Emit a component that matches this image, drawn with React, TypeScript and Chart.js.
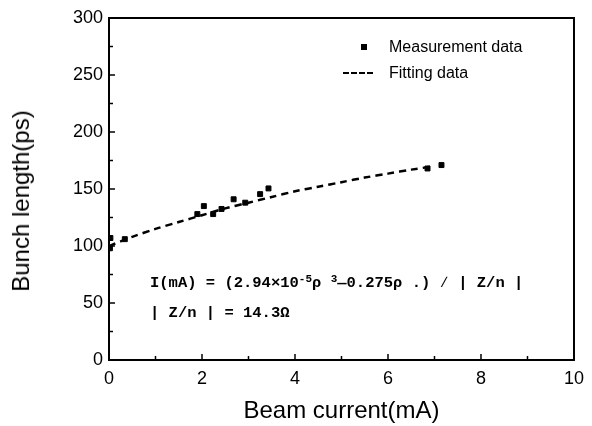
import React, { useEffect, useRef } from "react";
import { Chart, registerables } from "chart.js";

Chart.register(...registerables);

const measX = [0.02, 0.03, 0.34, 1.9, 2.04, 2.24, 2.42, 2.68, 2.93, 3.25, 3.43, 6.85, 7.15];
const measY = [98, 107, 106, 128, 135, 128, 132.5, 141, 138, 145.5, 150.5, 168, 171];

const fitX = [0, 0.5, 1, 1.5, 2, 2.5, 3, 3.5, 4, 4.5, 5, 5.5, 6, 6.5, 7];
const fitY = [100, 108, 115, 121, 127, 133, 138, 143, 148, 152, 156, 160, 163.5, 167, 170];

const xTicks = [0, 2, 4, 6, 8, 10];
const yTicks = [0, 50, 100, 150, 200, 250, 300];

const framePlugin = {
  id: "framePlugin",
  afterDraw(chart: any) {
    const { ctx, chartArea } = chart;
    const xs = chart.scales.x;
    const ys = chart.scales.y;
    ctx.save();
    ctx.strokeStyle = "#000";
    ctx.lineWidth = 2;
    ctx.strokeRect(chartArea.left, chartArea.top, chartArea.right - chartArea.left, chartArea.bottom - chartArea.top);
    ctx.lineWidth = 1.5;
    for (let v = 0; v <= 10; v += 1) {
      const px = xs.getPixelForValue(v);
      const len = v % 2 === 0 ? 6 : 4;
      ctx.beginPath();
      ctx.moveTo(px, chartArea.bottom);
      ctx.lineTo(px, chartArea.bottom - len);
      ctx.stroke();
    }
    for (let v = 0; v <= 300; v += 25) {
      const py = ys.getPixelForValue(v);
      const len = v % 50 === 0 ? 6 : 4;
      ctx.beginPath();
      ctx.moveTo(chartArea.left, py);
      ctx.lineTo(chartArea.left + len, py);
      ctx.stroke();
    }
    ctx.restore();
  },
};

export default function App() {
  const ref = useRef<HTMLCanvasElement | null>(null);
  useEffect(() => {
    document.body.style.margin = "0";
    const canvas = ref.current;
    if (!canvas) return;
    const chart = new Chart(canvas, {
      type: "scatter",
      data: {
        datasets: [
          {
            label: "Fitting data",
            data: fitX.map((x, i) => ({ x, y: fitY[i] })),
            showLine: true,
            borderColor: "#000",
            borderWidth: 2.5,
            borderDash: [7, 5],
            pointRadius: 0,
            tension: 0.3,
            order: 2,
          },
          {
            label: "Measurement data",
            data: measX.map((x, i) => ({ x, y: measY[i] })),
            pointStyle: "rect",
            pointRadius: 3.5,
            backgroundColor: "#000",
            borderColor: "#000",
            borderWidth: 1,
            showLine: false,
            order: 1,
          },
        ],
      },
      options: {
        animation: false,
        responsive: false,
        layout: { padding: { left: 0, top: 18, right: 14, bottom: 0 } },
        plugins: { legend: { display: false }, tooltip: { enabled: false } },
        scales: {
          x: {
            type: "linear",
            min: 0,
            max: 10,
            grid: { display: false, drawTicks: false },
            border: { display: false },
            afterFit: (s: any) => {
              s.height = 66;
            },
            afterBuildTicks: (s: any) => {
              s.ticks = xTicks.map((v) => ({ value: v }));
            },
            ticks: {
              color: "#000",
              padding: 8,
              maxRotation: 0,
              font: { family: "Liberation Sans", size: 18 },
            },
            title: {
              display: true,
              text: "Beam current(mA)",
              color: "#000",
              padding: { top: 0, bottom: 0 },
              font: { family: "Liberation Sans", size: 24 },
            },
          },
          y: {
            type: "linear",
            min: 0,
            max: 300,
            grid: { display: false, drawTicks: false },
            border: { display: false },
            afterFit: (s: any) => {
              s.width = 109;
            },
            afterBuildTicks: (s: any) => {
              s.ticks = yTicks.map((v) => ({ value: v }));
            },
            ticks: {
              color: "#000",
              padding: 6,
              font: { family: "Liberation Sans", size: 18 },
            },
            title: { display: false },
          },
        },
      },
      plugins: [framePlugin],
    });
    return () => chart.destroy();
  }, []);

  const mono: React.CSSProperties = {
    position: "absolute",
    fontFamily: "Liberation Mono, monospace",
    fontSize: 15.5,
    fontWeight: "bold",
    color: "#000",
    whiteSpace: "pre",
    lineHeight: "20px",
  };
  const sup: React.CSSProperties = { fontSize: 11, verticalAlign: "5px", lineHeight: "10px" };
  const legendText: React.CSSProperties = {
    position: "absolute",
    left: 389,
    fontFamily: "Liberation Sans",
    fontSize: 16,
    lineHeight: "18px",
    color: "#000",
    whiteSpace: "pre",
  };

  return (
    <div style={{ position: "relative", width: 592, height: 426, background: "#fff" }}>
      <canvas ref={ref} width={592} height={426} />
      <div
        style={{
          position: "absolute",
          left: 21,
          top: 201,
          transform: "translate(-50%, -50%) rotate(-90deg)",
          fontFamily: "Liberation Sans",
          fontSize: 24,
          lineHeight: "28px",
          color: "#000",
          whiteSpace: "nowrap",
        }}
      >
        Bunch length(ps)
      </div>
      <div style={{ position: "absolute", left: 361, top: 44, width: 6, height: 6, background: "#000" }} />
      <div style={{ ...legendText, top: 38 }}>Measurement data</div>
      <div
        style={{
          position: "absolute",
          left: 343,
          top: 72,
          width: 30,
          height: 0,
          borderTop: "2.5px dashed #000",
        }}
      />
      <div style={{ ...legendText, top: 64 }}>Fitting data</div>
      <div style={{ ...mono, left: 150, top: 273 }}>
        {"I(mA) = (2.94×10"}
        <span style={sup}>-5</span>
        {"ρ "}
        <span style={sup}>3</span>
        {"—0.275ρ .) ∕ | Z/n |"}
      </div>
      <div style={{ ...mono, left: 150, top: 303 }}>{"| Z/n | = 14.3Ω"}</div>
    </div>
  );
}
